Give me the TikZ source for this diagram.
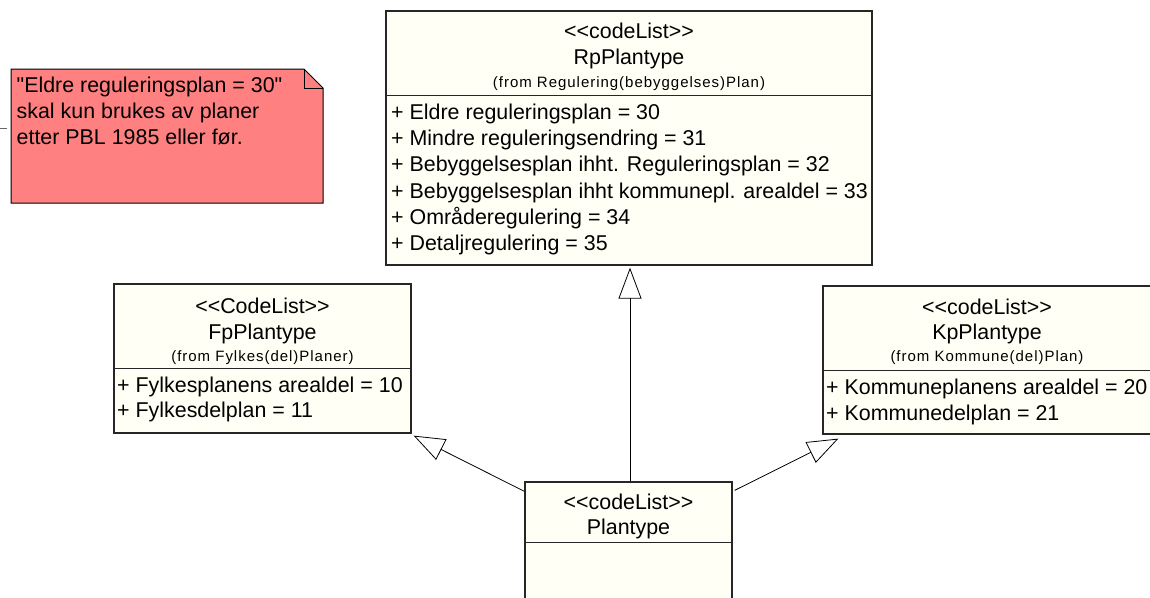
\documentclass[tikz,border=0pt]{standalone}
\usepackage{fontspec}
\setmainfont{Liberation Sans}[Ligatures=TeXOff]
\usetikzlibrary{arrows.meta}
\definecolor{notered}{HTML}{FF8080}
\definecolor{classbg}{HTML}{FFFFF5}

\begin{document}
\begin{tikzpicture}[x=1pt,y=-1pt,
  cls/.style={draw=black!85,fill=classbg,line width=1.3pt,rectangle,inner sep=0},
  txt/.style={inner sep=0,anchor=base,font=\fontsize{21.4}{26}\selectfont},
  attr/.style={txt,anchor=base west},
  from/.style={inner sep=0,anchor=base,font=\fontsize{15}{17}\selectfont\addfontfeature{LetterSpace=6.5}},
  gen/.style={-{Triangle[open,length=31pt,width=23pt]},line width=0.8pt}]
\clip (0,0) rectangle (1150,597);
% note
\draw[fill=notered,line width=1pt] (11,69) -- (304,69) -- (323,88) -- (323,203) -- (11,203) -- cycle;
\draw[line width=1pt] (304,69) -- (304,88) -- (323,88);
\foreach \t [count=\i from 0] in {"Eldre reguleringsplan = 30",skal kun brukes av planer,etter PBL 1985 eller før.}
  \node (note\i) at (16.5,92+26*\i) [attr] {\t};
\coordinate (stubA) at (0,128);
\coordinate (stubB) at (7,128);
\draw[black!60] (stubA) -- (stubB);
% RpPlantype
\node (rp) at (629,138) [cls,minimum width=486pt,minimum height=254pt] {};
\draw[line width=1.3pt,black!85] ([yshift=-85pt]rp.north west) -- ([yshift=-85pt]rp.north east);
\node (rpstereo) at (629,38) [txt] {<\kern0pt<codeList>\kern0pt>};
\node (rpname) at (629,64) [txt] {RpPlantype};
\node (rpfrom) at (629,87) [from] {(from Regulering(bebyggelses)Plan)};
\foreach \t [count=\i from 0] in {Eldre reguleringsplan = 30,Mindre reguleringsendring = 31,
  Bebyggelsesplan ihht. Reguleringsplan = 32,Bebyggelsesplan ihht kommunepl. arealdel = 33,
  Områderegulering = 34,Detaljregulering = 35}
  \node (rpattr\i) at (391,119.5+26.2*\i) [attr] {+ \t};
% FpPlantype
\node (fp) at (262.5,358.5) [cls,minimum width=297pt,minimum height=149pt] {};
\draw[line width=1.3pt,black!85] ([yshift=-85pt]fp.north west) -- ([yshift=-85pt]fp.north east);
\node (fpstereo) at (262.5,313.5) [txt] {<\kern0pt<CodeList>\kern0pt>};
\node (fpname) at (262.5,339.5) [txt] {FpPlantype};
\node (fpfrom) at (262.5,361) [from] {(from Fylkes(del)Planer)};
\node (fpattr0) at (117,392.5) [attr] {+ Fylkesplanens arealdel = 10};
\node (fpattr1) at (117,417.5) [attr] {+ Fylkesdelplan = 11};
% KpPlantype
\node (kp) at (987,360) [cls,minimum width=328pt,minimum height=148pt] {};
\draw[line width=1.3pt,black!85] ([yshift=-85pt]kp.north west) -- ([yshift=-85pt]kp.north east);
\node (kpstereo) at (987,314.5) [txt] {<\kern0pt<codeList>\kern0pt>};
\node (kpname) at (987,339.5) [txt] {KpPlantype};
\node (kpfrom) at (987,361) [from] {(from Kommune(del)Plan)};
\node (kpattr0) at (826,394.5) [attr] {+ Kommuneplanens arealdel = 20};
\node (kpattr1) at (826,420) [attr] {+ Kommunedelplan = 21};
% Plantype
\node (plan) at (628.5,562) [cls,minimum width=207pt,minimum height=160pt] {};
\draw[line width=1.3pt,black!85] ([yshift=-61pt]plan.north west) -- ([yshift=-61pt]plan.north east);
\node (planstereo) at (628.5,509.5) [txt] {<\kern0pt<codeList>\kern0pt>};
\node (planname) at (628.5,534.5) [txt] {Plantype};
% generalisations
\draw[gen] ([xshift=1.5pt]plan.north) -- ([shift={(1pt,-2pt)}]rp.south);
\draw[gen] ([yshift=-10pt]plan.north west) -- ([shift={(2pt,-2pt)}]fp.south east);
\draw[gen] ([shift={(2pt,-9pt)}]plan.north east) -- ([shift={(16pt,-4pt)}]kp.south west);
\end{tikzpicture}
\end{document}
